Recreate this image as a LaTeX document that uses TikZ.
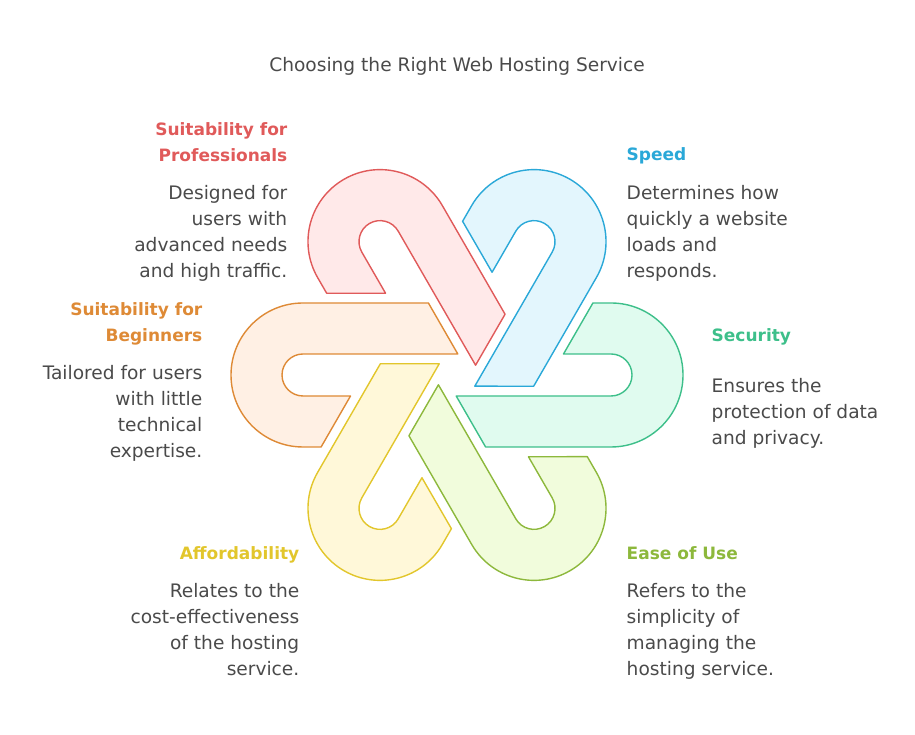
\documentclass[tikz,border=0pt]{standalone}
\usepackage{fontspec}
\setmainfont{DejaVu Sans}
\usetikzlibrary{positioning}

\definecolor{txtgray}{HTML}{4A4A4A}
\definecolor{proDraw}{HTML}{E05A5A}
\definecolor{proFill}{HTML}{FFE9E9}
\definecolor{speedDraw}{HTML}{2AA8D8}
\definecolor{speedFill}{HTML}{E3F6FD}
\definecolor{secDraw}{HTML}{3DBF8A}
\definecolor{secFill}{HTML}{E0FBEF}
\definecolor{easeDraw}{HTML}{8DB83C}
\definecolor{easeFill}{HTML}{F1FCDC}
\definecolor{affDraw}{HTML}{E2C62C}
\definecolor{affFill}{HTML}{FFF8D9}
\definecolor{begDraw}{HTML}{DE8A36}
\definecolor{begFill}{HTML}{FFF0E4}

\begin{document}
\begin{tikzpicture}[x=1pt, y=1pt, line width=1.4pt, line join=round,
  hook/.pic={\draw[pic actions] (0,72) -- (125.4,72) -- (154.8,21) -- (0,21)
      arc[start angle=90, end angle=270, radius=21] -- (47.5,-21) -- (18.1,-72) -- (0,-72)
      arc[start angle=270, end angle=90, radius=72] -- cycle;},
  head/.style={font=\bfseries\fontsize{17}{26}\selectfont, inner sep=0pt},
  desc/.style={font=\fontsize{18.6}{26}\selectfont, text=txtgray, inner sep=0pt}]

  \useasboundingbox (0,0) rectangle (915,735);
  \coordinate (mid) at (457,360);

  % Titulo
  \node [desc, anchor=base] (title) at (457,663) {Choosing the Right Web Hosting Service};

  % Las seis horquillas alrededor del centro
  \pic [draw=proDraw, fill=proFill, shift={(mid)}, shift={(120:154)}, rotate=300] {hook};
  \pic [draw=speedDraw, fill=speedFill, shift={(mid)}, shift={(60:154)}, rotate=240] {hook};
  \pic [draw=secDraw, fill=secFill, shift={(mid)}, shift={(0:154)}, rotate=180] {hook};
  \pic [draw=easeDraw, fill=easeFill, shift={(mid)}, shift={(-60:154)}, rotate=120] {hook};
  \pic [draw=affDraw, fill=affFill, shift={(mid)}, shift={(-120:154)}, rotate=60] {hook};
  \pic [draw=begDraw, fill=begFill, shift={(mid)}, shift={(180:154)}] {hook};

  % Textos de la izquierda (base = ultima linea)
  \node [head, text=proDraw, anchor=base east, align=right] (proHead) at (288,573) {Suitability for\\Professionals};
  \node [desc, anchor=base east, align=right] (proText) at (288,457) {Designed for\\users with\\advanced needs\\and high traffic.};
  \node [head, text=begDraw, anchor=base east, align=right] (begHead) at (203,393) {Suitability for\\Beginners};
  \node [desc, anchor=base east, align=right] (begText) at (203,277) {Tailored for users\\with little\\technical\\expertise.};
  \node [head, text=affDraw, anchor=base east] (affHead) at (300,175) {Affordability};
  \node [desc, anchor=base east, align=right] (affText) at (300,59) {Relates to the\\cost-effectiveness\\of the hosting\\service.};

  % Textos de la derecha
  \node [head, text=speedDraw, anchor=base west] (speedHead) at (626,574) {Speed};
  \node [desc, anchor=base west, align=left] (speedText) at (626,457) {Determines how\\quickly a website\\loads and\\responds.};
  \node [head, text=secDraw, anchor=base west] (secHead) at (711,393) {Security};
  \node [desc, anchor=base west, align=left] (secText) at (711,290) {Ensures the\\protection of data\\and privacy.};
  \node [head, text=easeDraw, anchor=base west] (easeHead) at (626,175) {Ease of Use};
  \node [desc, anchor=base west, align=left] (easeText) at (626,59) {Refers to the\\simplicity of\\managing the\\hosting service.};
\end{tikzpicture}
\end{document}
